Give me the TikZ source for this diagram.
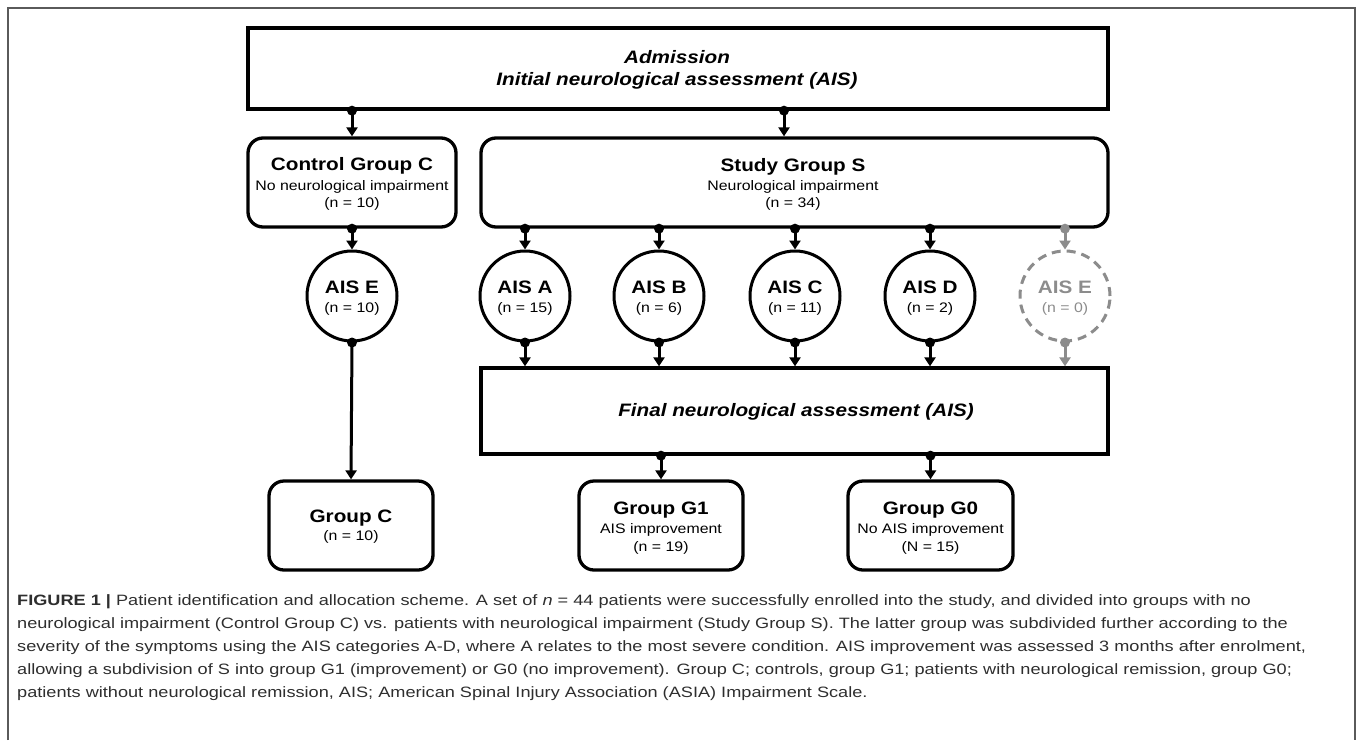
\documentclass[tikz,border=0pt]{standalone}
\usepackage{fontspec}
\setmainfont{Liberation Sans}[FakeStretch=1.15]
\newfontfamily\capfont{Liberation Sans}[FakeStretch=1.21]
\usetikzlibrary{arrows.meta}
\definecolor{frameg}{HTML}{5A5A5A}
\definecolor{ghost}{HTML}{8C8C8C}
\definecolor{captxt}{HTML}{2E2E2E}
\begin{document}
\begin{tikzpicture}[x=1pt,y=-1pt,
  sqbox/.style={draw, line width=3.3pt, rectangle, inner sep=0pt},
  rbox/.style={sqbox, rounded corners=15pt},
  circ/.style={draw, circle, line width=3pt, minimum size=90pt, inner sep=0pt},
  ghostcirc/.style={circ, draw=ghost, dash pattern=on 9pt off 6pt},
  conn/.style={line width=3pt, -{Triangle[width=11pt,length=9pt]}},
  ttl/.style={anchor=base, inner sep=0pt, font=\fontsize{18}{20}\selectfont\bfseries},
  sub/.style={anchor=base, inner sep=0pt, font=\fontsize{13.8}{16}\selectfont},
  big/.style={anchor=base, inner sep=0pt, font=\fontsize{18}{20}\selectfont\bfseries\itshape},
  capline/.style={anchor=base west, inner sep=0pt, text=captxt, font=\capfont\fontsize{15}{23}\selectfont},
  dotr/.style={radius=5pt}
]
\useasboundingbox (0,0) rectangle (1358,740);
% outer frame
\draw[frameg, line width=1.5pt] (8,740) -- (8,8) -- (1355,8) -- (1355,740);

% boxes
\node[sqbox, minimum width=860pt, minimum height=81pt] (adm) at (678,68.5) {};
\node[rbox, minimum width=208pt, minimum height=89pt] (ctrl) at (352,182.5) {};
\node[rbox, minimum width=627pt, minimum height=89pt] (study) at (794.5,182.5) {};
\node[sqbox, minimum width=627pt, minimum height=86pt] (final) at (794.5,411) {};
\node[rbox, minimum width=164pt, minimum height=89pt] (gc) at (351,525.5) {};
\node[rbox, minimum width=164pt, minimum height=89pt] (g1) at (661,525.5) {};
\node[rbox, minimum width=165pt, minimum height=89pt] (g0) at (930.5,525.5) {};

% circles
\node[circ] (ce) at (352,296) {};
\node[circ] (ca) at (525,296) {};
\node[circ] (cb) at (659,296) {};
\node[circ] (cc) at (795,296) {};
\node[circ] (cd) at (930,296) {};
\node[ghostcirc] (cg) at (1065,296) {};

% texts
\node[big] (admT1) at (677,63) {Admission};
\node[big] (admT2) at (677,85) {Initial neurological assessment (AIS)};
\node[ttl] (ctrlT) at (352,170) {Control Group C};
\node[sub] (ctrlS) at (352,190) {No neurological impairment};
\node[sub] (ctrlN) at (352,207) {(n = 10)};
\node[ttl] (studyT) at (793,171) {Study Group S};
\node[sub] (studyS) at (793,190) {Neurological impairment};
\node[sub] (studyN) at (793,207) {(n = 34)};
\node[ttl] (ceT) at (352,293) {AIS E};
\node[sub] (ceN) at (352,312) {(n = 10)};
\node[ttl] (caT) at (525,293) {AIS A};
\node[sub] (caN) at (525,312) {(n = 15)};
\node[ttl] (cbT) at (659,293) {AIS B};
\node[sub] (cbN) at (659,312) {(n = 6)};
\node[ttl] (ccT) at (795,293) {AIS C};
\node[sub] (ccN) at (795,312) {(n = 11)};
\node[ttl] (cdT) at (930,293) {AIS D};
\node[sub] (cdN) at (930,312) {(n = 2)};
\node[ttl, text=ghost] (cgT) at (1065,293) {AIS E};
\node[sub, text=ghost] (cgN) at (1065,312) {(n = 0)};
\node[big] (finT) at (796,416) {Final neurological assessment (AIS)};
\node[ttl] (gcT) at (351,522) {Group C};
\node[sub] (gcN) at (351,540) {(n = 10)};
\node[ttl] (g1T) at (661,514) {Group G1};
\node[sub] (g1S) at (661,533) {AIS improvement};
\node[sub] (g1N) at (661,551) {(n = 19)};
\node[ttl] (g0T) at (930.5,514) {Group G0};
\node[sub] (g0S) at (930.5,533) {No AIS improvement};
\node[sub] (g0N) at (930.5,551) {(N = 15)};

% connectors
\coordinate (sx) at (784,0);
\draw[conn] (ctrl |- adm.south) -- (ctrl.north);
\fill (ctrl |- adm.south) circle[dotr];
\draw[conn] (sx |- adm.south) -- (sx |- study.north);
\fill (sx |- adm.south) circle[dotr];
\draw[conn] (ctrl.south) -- (ce.north);
\fill (ctrl.south) circle[dotr];
\draw[conn] (ce.south) -- (gc.north);
\fill (ce.south) circle[dotr];
\foreach \c in {ca,cb,cc,cd}{
  \draw[conn] (\c |- study.south) -- (\c.north);
  \fill (\c |- study.south) circle[dotr];
  \draw[conn] (\c.south) -- (\c |- final.north);
  \fill (\c.south) circle[dotr];
}
\draw[conn, ghost] (cg |- study.south) -- (cg.north);
\fill[ghost] (cg |- study.south) circle[dotr];
\draw[conn, ghost] (cg.south) -- (cg |- final.north);
\fill[ghost] (cg.south) circle[dotr];
\draw[conn] (g1 |- final.south) -- (g1.north);
\fill (g1 |- final.south) circle[dotr];
\draw[conn] (g0 |- final.south) -- (g0.north);
\fill (g0 |- final.south) circle[dotr];

% caption
\node[capline] (cap1) at (17,605) {\textbf{FIGURE 1 |} Patient identification and allocation scheme. A set of \textit{n} = 44 patients were successfully enrolled into the study, and divided into groups with no};
\node[capline] (cap2) at (17,628) {neurological impairment (Control Group C) vs. patients with neurological impairment (Study Group S). The latter group was subdivided further according to the};
\node[capline] (cap3) at (17,651) {severity of the symptoms using the AIS categories A-D, where A relates to the most severe condition. AIS improvement was assessed 3 months after enrolment,};
\node[capline] (cap4) at (17,674) {allowing a subdivision of S into group G1 (improvement) or G0 (no improvement). Group C; controls, group G1; patients with neurological remission, group G0;};
\node[capline] (cap5) at (17,697) {patients without neurological remission, AIS; American Spinal Injury Association (ASIA) Impairment Scale.};
\end{tikzpicture}
\end{document}
